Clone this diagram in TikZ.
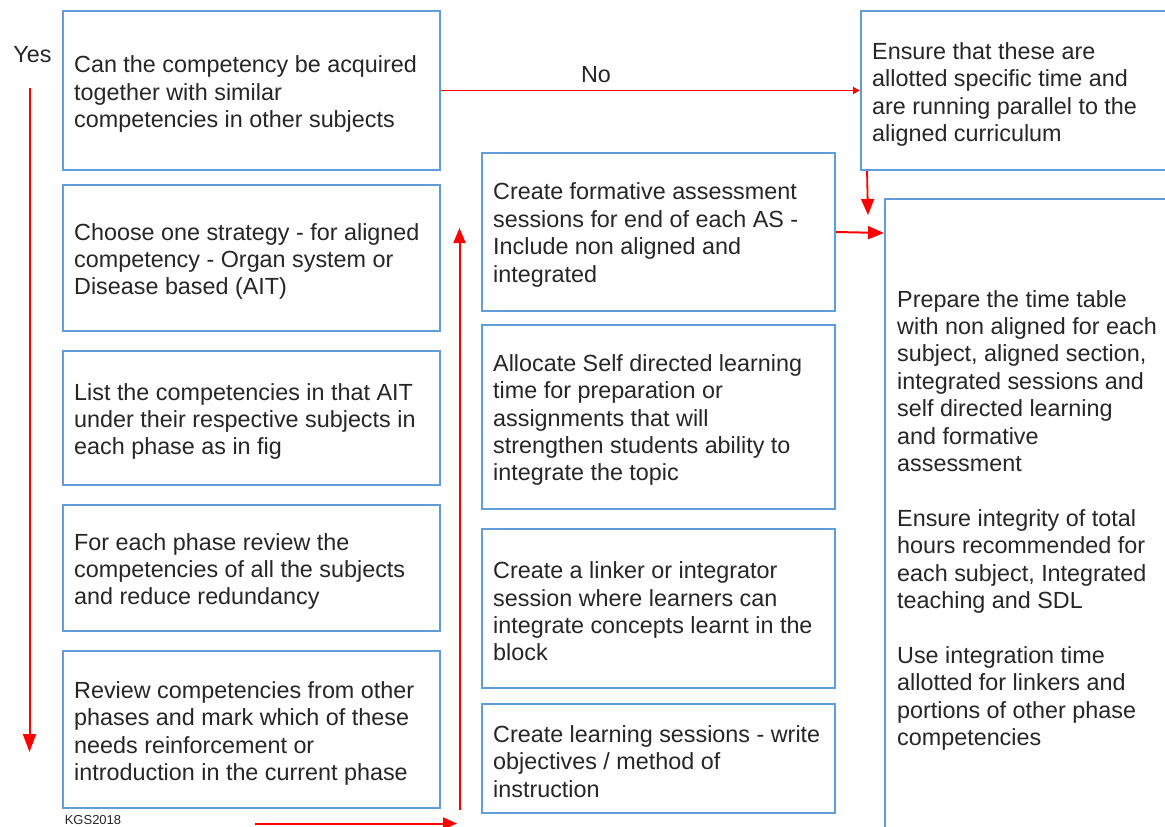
\documentclass[tikz,border=0pt]{standalone}
\usepackage{fontspec}
\setmainfont{Liberation Sans}
\usetikzlibrary{arrows.meta,calc}
\definecolor{boxblue}{HTML}{619DD8}
\definecolor{txtgray}{HTML}{262626}
\definecolor{arrred}{HTML}{FF0000}
\begin{document}
\begin{tikzpicture}[x=1pt,y=-1pt,
  box/.style={draw=boxblue, line width=2pt, fill=white, inner sep=0pt},
  boxtext/.style={inner sep=0pt, align=left, text=txtgray, anchor=west,
    font=\fontsize{23.35}{27.4}\selectfont},
  lbl/.style={inner sep=0pt, text=txtgray, font=\fontsize{23.35}{27.4}\selectfont},
  redarrow/.style={draw=arrred, line width=2pt},
  bigtip/.style={-{Triangle[length=18pt,width=13pt]}},
  midtip/.style={-{Triangle[length=16pt,width=13pt]}},
  smalltip/.style={-{Triangle[length=7pt,width=7pt]}}]
\clip (0,0) rectangle (1165,827);
\fill[white] (0,0) rectangle (1165,827);

% left column
\node[box, minimum width=377pt, minimum height=159pt] (b1) at (251.5,90.5) {};
\node[box, minimum width=377pt, minimum height=146pt] (b2) at (251.5,258) {};
\node[box, minimum width=377pt, minimum height=134pt] (b3) at (251.5,418) {};
\node[box, minimum width=377pt, minimum height=126pt] (b4) at (251.5,568) {};
\node[box, minimum width=377pt, minimum height=157pt] (b5) at (251.5,729.5) {};
% middle column
\node[box, minimum width=353pt, minimum height=158pt] (m1) at (658.5,232) {};
\node[box, minimum width=353pt, minimum height=184pt] (m2) at (658.5,417) {};
\node[box, minimum width=353pt, minimum height=159pt] (m3) at (658.5,608.5) {};
\node[box, minimum width=353pt, minimum height=109pt] (m4) at (658.5,758.5) {};
% right column
\node[box, minimum width=339pt, minimum height=159pt] (r1) at (1030.5,90.5) {};
\node[box, minimum width=315pt, minimum height=701pt] (big) at (1042.5,549.5) {};

% texts
\node[boxtext] (b1t) at ($(b1.west)+(12,3.5)$) {Can the competency be acquired\\together with similar\\competencies in other subjects};
\node[boxtext] (b2t) at ($(b2.west)+(12,3.5)$) {Choose one strategy - for aligned\\competency - Organ system or\\Disease based (AIT)};
\node[boxtext] (b3t) at ($(b3.west)+(12,3.5)$) {List the competencies in that AIT\\under their respective subjects in\\each phase as in fig};
\node[boxtext] (b4t) at ($(b4.west)+(12,3.5)$) {For each phase review the\\competencies of all the subjects\\and reduce redundancy};
\node[boxtext] (b5t) at ($(b5.west)+(12,4)$) {Review competencies from other\\phases and mark which of these\\needs reinforcement or\\introduction in the current phase};
\node[boxtext] (m1t) at ($(m1.west)+(12,3)$) {Create formative assessment\\sessions for end of each AS -\\Include non aligned and\\integrated};
\node[boxtext] (m2t) at ($(m2.west)+(12,3)$) {Allocate Self directed learning\\time for preparation or\\assignments that will\\strengthen students ability to\\integrate the topic};
\node[boxtext] (m3t) at ($(m3.west)+(12,3)$) {Create a linker or integrator\\session where learners can\\integrate concepts learnt in the\\block};
\node[boxtext] (m4t) at ($(m4.west)+(12,3)$) {Create learning sessions - write\\objectives / method of\\instruction};
\node[boxtext] (r1t) at ($(r1.west)+(12,4)$) {Ensure that these are\\allotted specific time and\\are running parallel to the\\aligned curriculum};
\node[boxtext, anchor=north west] (bigt) at (897,290) {Prepare the time table\\with non aligned for each\\subject, aligned section,\\integrated sessions and\\self directed learning\\and formative\\assessment\\[27.4pt]Ensure integrity of total\\hours recommended for\\each subject, Integrated\\teaching and SDL\\[27.4pt]Use integration time\\allotted for linkers and\\portions of other phase\\competencies};

% labels
\node[lbl] (yes) at (32.5,55) {Yes};
\node[lbl] (no) at (596,75) {No};
\node[inner sep=0pt, text=txtgray, font=\fontsize{13}{15}\selectfont] (kgs) at (93,820) {KGS2018};

% connectors
\coordinate (yesA) at (29.5,88);
\coordinate (yesB) at (29.5,752);
\draw[redarrow, bigtip] (yesA) -- (yesB);

\draw[draw=arrred, line width=1.2pt, smalltip] (b1.east) -- (r1.west);

\coordinate (dnB) at (868,215);
\draw[redarrow, midtip, line width=1.8pt] ([xshift=7pt]r1.south west) -- (dnB);

\draw[redarrow, midtip] (m1.east) -- (big.west |- 0,233);

\coordinate (botA) at (255,823.5);
\coordinate (botB) at (457,823.5);
\draw[redarrow, {-Triangle[length=14pt,width=12pt]}] (botA) -- (botB);

\coordinate (upA) at (459.5,810);
\coordinate (upB) at (459.5,228);
\draw[redarrow, {-Triangle[length=15pt,width=12pt]}] (upA) -- (upB);
\end{tikzpicture}
\end{document}
